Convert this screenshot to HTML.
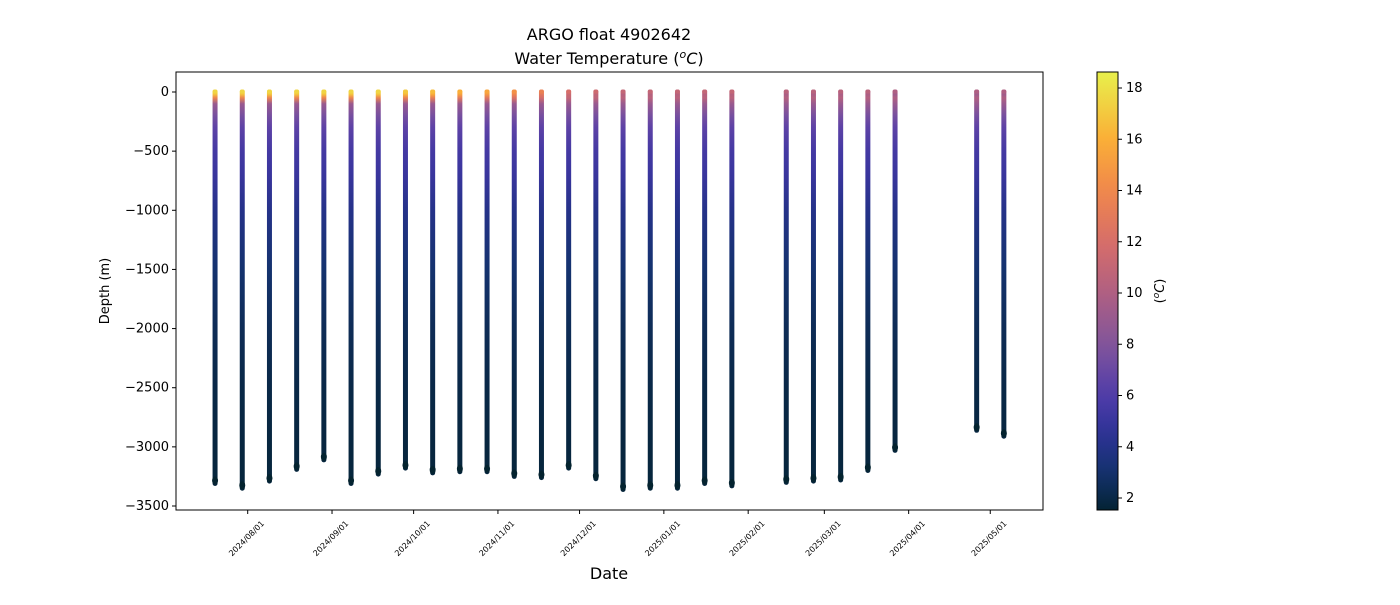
<!DOCTYPE html>
<html><head><meta charset="utf-8"><style>
body{margin:0;background:#fff;font-family:"Liberation Sans","DejaVu Sans",sans-serif}
svg text{font-family:"DejaVu Sans","Liberation Sans",sans-serif}
</style></head><body>
<svg id="c" width="1400" height="600"></svg>
<script>
const profileDates=["2024-07-20","2024-07-30","2024-08-09","2024-08-19","2024-08-29","2024-09-08","2024-09-18","2024-09-28","2024-10-08","2024-10-18","2024-10-28","2024-11-07","2024-11-17","2024-11-27","2024-12-07","2024-12-17","2024-12-27","2025-01-06","2025-01-16","2025-01-26","2025-02-15","2025-02-25","2025-03-07","2025-03-17","2025-03-27","2025-04-26","2025-05-06"];
const maxDepths=[3310,3350,3290,3190,3110,3310,3230,3180,3220,3210,3210,3250,3260,3180,3270,3360,3350,3350,3310,3330,3300,3290,3280,3200,3030,2860,2910];
const surfaceTemps=[17.5,17.5,17.5,17.5,17.5,17.5,17.5,17,16.5,16,15.5,14.5,13.5,12,11.5,11,11,11,11,11,10.5,10.5,10.5,10.5,10,10,10];
const levelDepths=[0,20,50,100,200,300,500,700,1000,1500,2000,2500,3000,3500];
const levelTemps=[null,null,null,9,7.5,6.5,5.5,5,4,3,2.4,2,1.8,1.7];
const yTicks=[0,-500,-1000,-1500,-2000,-2500,-3000,-3500];
const xTicks=["2024/08/01","2024/09/01","2024/10/01","2024/11/01","2024/12/01","2025/01/01","2025/02/01","2025/03/01","2025/04/01","2025/05/01"];
const cbTicks=[2,4,6,8,10,12,14,16,18];

const NS="http://www.w3.org/2000/svg",svg=document.getElementById('c');
function el(t,a,p){const e=document.createElementNS(NS,t);for(const k in a)e.setAttribute(k,a[k]);(p||svg).appendChild(e);return e;}
const PL=176,PR=1043,PT=72,PB=510;
const y=d=>92+(-d)*(414/3500);
const t0=Date.parse("2024-08-01");
const x=s=>247.7+(Date.parse(s.replace(/\//g,'-'))-t0)/86400000*2.72;
const cmStops=[[1.5,[4,35,51]],[3,[20,50,110]],[4.5,[45,50,150]],[6,[80,60,170]],[8,[130,85,155]],[10,[175,95,130]],[12,[215,110,105]],[14,[240,135,75]],[16,[250,175,55]],[18.6,[232,240,75]]];
function cm(v){if(v<=cmStops[0][0])return `rgb(${cmStops[0][1]})`;for(let i=1;i<cmStops.length;i++){if(v<=cmStops[i][0]){const a=cmStops[i-1],b=cmStops[i],f=(v-a[0])/(b[0]-a[0]);return `rgb(${a[1].map((c,j)=>Math.round(c+(b[1][j]-c)*f))})`;}}return `rgb(${cmStops[cmStops.length-1][1]})`;}
const defs=el('defs',{});
el('rect',{x:PL,y:PT,width:PR-PL,height:PB-PT,fill:'none',stroke:'#000','stroke-width':1,});
yTicks.forEach(v=>{const yy=y(v);el('line',{x1:PL-4,x2:PL,y1:yy,y2:yy,stroke:'#000'});
 const t=el('text',{x:PL-7,y:yy+4,'text-anchor':'end','font-size':13});t.textContent=v<0?'\u2212'+(-v):v;
 });
xTicks.forEach(s=>{const xx=x(s);el('line',{x1:xx,x2:xx,y1:PB,y2:PB+4,stroke:'#000'});
 const ax=xx+17,ay=PB+14;
 const t=el('text',{x:ax,y:ay,'text-anchor':'end','font-size':8,transform:`rotate(-45 ${ax} ${ay})`});t.textContent=s;
 });
profileDates.forEach((d,i)=>{
 const st=surfaceTemps[i],temps=levelTemps.map((v,j)=>j==0?st:j==1?st-0.7:j==2?(st+9)/2+0.5:v);
 const g=el('linearGradient',{id:'g'+i,gradientUnits:'userSpaceOnUse',x1:0,x2:0,y1:y(0),y2:y(-3500)},defs);
 levelDepths.forEach((dd,j)=>el('stop',{offset:dd/3500,'stop-color':cm(temps[j])},g));
 const xx=x(d),yb=y(-maxDepths[i]);
 const l=el('line',{x1:xx,x2:xx,y1:y(0),y2:yb,stroke:`url(#g${i})`,'stroke-width':5,'stroke-linecap':'round'});
 
 el('rect',{x:xx-2.5,y:y(0)-2.5,width:5,height:4,rx:2,fill:cm(st)});
 el('ellipse',{cx:xx,cy:yb-3,rx:3,ry:4,fill:'#04232f'});
});
let t=el('text',{x:609,y:40,'text-anchor':'middle','font-size':16});t.textContent='ARGO float 4902642';
t=el('text',{x:609,y:64,'text-anchor':'middle','font-size':16});t.innerHTML='Water Temperature (<tspan font-style="italic">'+'<tspan font-size="11" dy="-6">o</tspan><tspan dy="6">C</tspan></tspan>)';
t=el('text',{x:609,y:579,'text-anchor':'middle','font-size':16});t.textContent='Date';
t=el('text',{x:109,y:291,'text-anchor':'middle','font-size':13,transform:'rotate(-90 109 291)'});t.textContent='Depth (m)';
const CX=1097,CW=21,cy=v=>88+(18-v)*(410/16);
const cg=el('linearGradient',{id:'cb',x1:0,x2:0,y1:1,y2:0},defs);
for(let k=0;k<=20;k++){const v=1.53+(18.62-1.53)*k/20;el('stop',{offset:k/20,'stop-color':cm(v)},cg);}
const cbr=el('rect',{x:CX,y:PT,width:CW,height:PB-PT,fill:'url(#cb)',stroke:'#000','stroke-width':1});

cbTicks.forEach(v=>{const yy=cy(v);el('line',{x1:CX+CW,x2:CX+CW+4,y1:yy,y2:yy,stroke:'#000'});
 const tt=el('text',{x:CX+CW+8,y:yy+4,'font-size':13});tt.textContent=v;});
t=el('text',{x:1164,y:291,'text-anchor':'middle','font-size':13,transform:'rotate(-90 1164 291)'});t.innerHTML='(<tspan font-style="italic"><tspan font-size="9" dy="-5">o</tspan><tspan dy="5">C</tspan></tspan>)';
</script></body></html>
